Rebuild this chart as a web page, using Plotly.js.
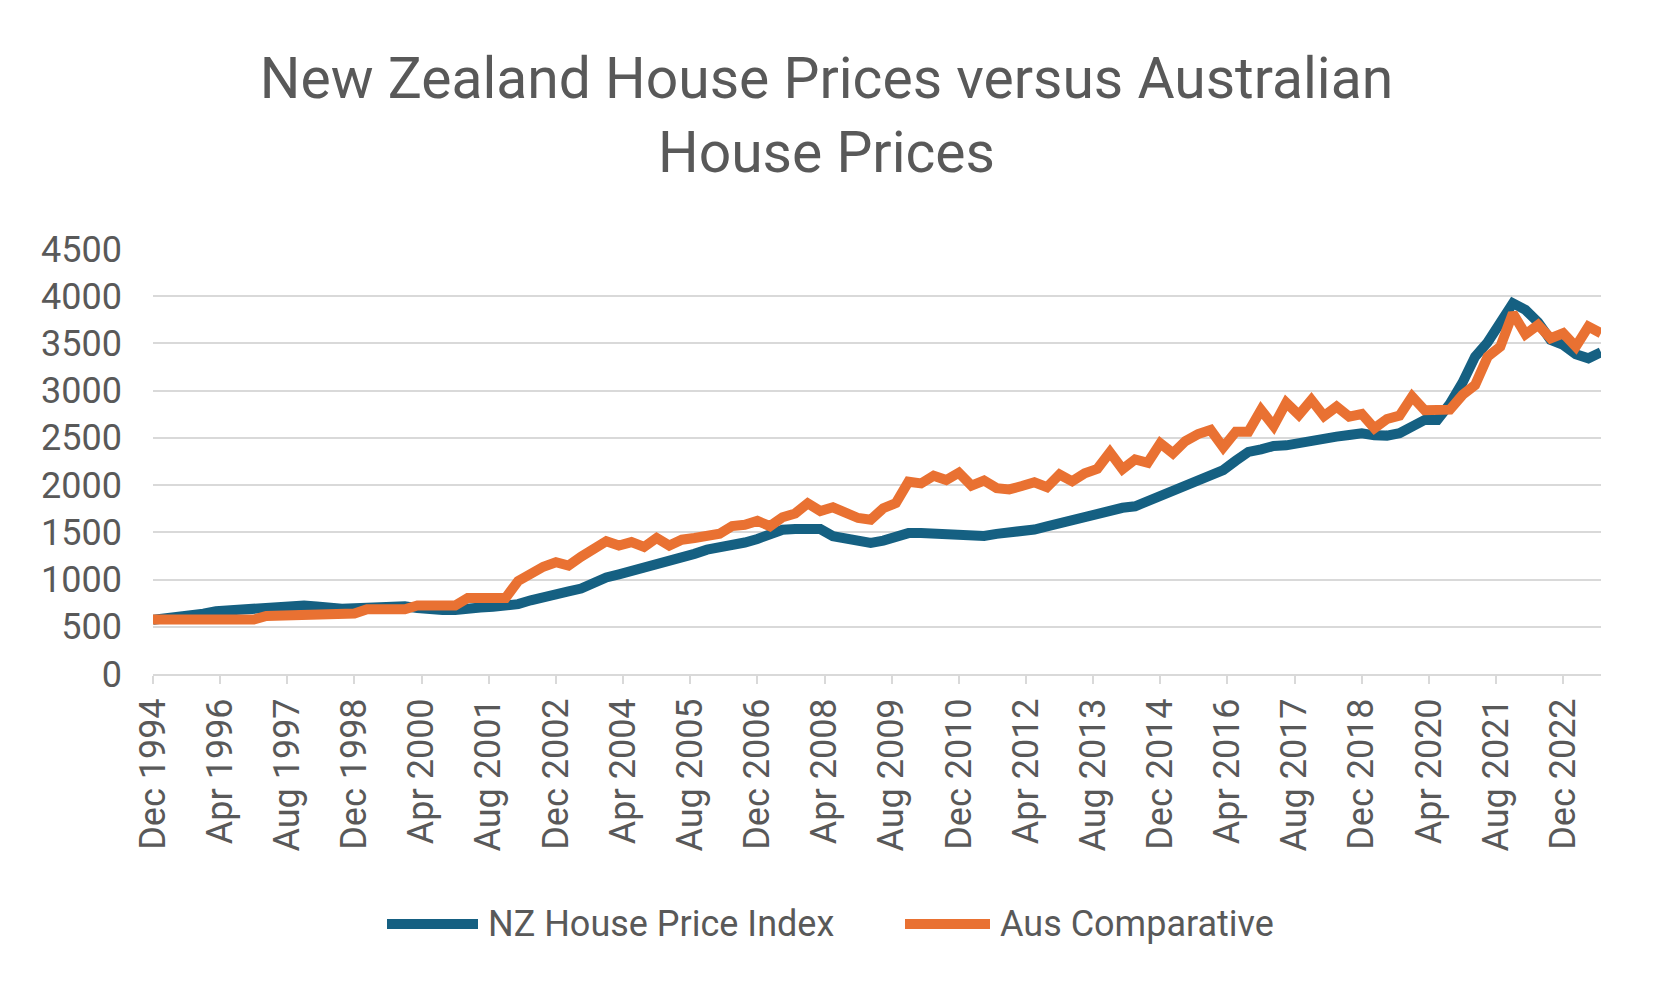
<!DOCTYPE html>
<html>
<head>
<meta charset="utf-8">
<script src="https://cdn.plot.ly/plotly-3.0.1.min.js"></script>
<style>
  html, body { margin: 0; padding: 0; background: #ffffff; }
  #chart { width: 1653px; height: 993px; outline: 2px solid #d9d9d9; outline-offset: -2px; }
</style>
</head>
<body>
<div id="chart"></div>
<script>
// Quarterly observations, Dec 1994 to Sep 2023
const nzHousePriceIndex = [
  575, 585, 596, 610, 638, 664, 676, 680, 695, 708,
  716, 719, 726, 716, 700, 692, 695, 705, 712, 715,
  718, 698, 680, 678, 678, 705, 705, 712, 720, 740,
  780, 804, 832, 875, 905, 968, 1022, 1055, 1090, 1118,
  1148, 1200, 1240, 1272, 1316, 1341, 1353, 1392, 1430, 1485,
  1528, 1534, 1538, 1535, 1460, 1440, 1403, 1389, 1412, 1450,
  1492, 1494, 1484, 1470, 1458, 1456, 1461, 1484, 1493, 1505,
  1530, 1563, 1598, 1630, 1666, 1715, 1742, 1760, 1776, 1828,
  1886, 1948, 1990, 2054, 2089, 2160, 2259, 2351, 2379, 2414,
  2421, 2449, 2474, 2502, 2513, 2531, 2549, 2527, 2524, 2549,
  2620, 2690, 2690, 2860, 3085, 3360, 3513, 3714, 3926, 3855,
  3725, 3537, 3484, 3386, 3343, 3407
];
const ausComparative = [
  576, 576, 576, 576, 576, 576, 576, 576, 576, 614,
  614, 614, 614, 640, 640, 640, 640, 686, 686, 686,
  686, 725, 725, 725, 725, 805, 805, 805, 805, 985,
  1065, 1136, 1183, 1148, 1242, 1330, 1405, 1360, 1397, 1345,
  1440, 1360, 1422, 1440, 1475, 1485, 1567, 1580, 1621, 1565,
  1660, 1700, 1807, 1725, 1765, 1697, 1652, 1634, 1755, 1810,
  2036, 2018, 2100, 2054, 2131, 1995, 2048, 1968, 1955, 1990,
  2030, 1978, 2112, 2040, 2125, 2172, 2348, 2168, 2272, 2237,
  2443, 2337, 2467, 2541, 2584, 2400, 2566, 2566, 2796, 2626,
  2873, 2743, 2902, 2732, 2831, 2725, 2753, 2602, 2700, 2735,
  2937, 2792, 2796, 2799, 2955, 3060, 3360, 3466, 3820, 3597,
  3696, 3555, 3608, 3466, 3678, 3608
];
const tickLabels = [
  "Dec 1994", "Apr 1996", "Aug 1997", "Dec 1998", "Apr 2000", "Aug 2001",
  "Dec 2002", "Apr 2004", "Aug 2005", "Dec 2006", "Apr 2008", "Aug 2009",
  "Dec 2010", "Apr 2012", "Aug 2013", "Dec 2014", "Apr 2016", "Aug 2017",
  "Dec 2018", "Apr 2020", "Aug 2021", "Dec 2022"
];
const seriesNames = ["NZ House Price Index", "Aus Comparative"];
const titleText = "New Zealand House Prices versus Australian<br>House Prices";

// x positions: months elapsed since Dec 1994 (quarterly points, 16-month tick spacing)
const monthsOf = arr => arr.map((_, i) => 3 * i);
const tickMonths = tickLabels.map((_, i) => 16 * i);

const BLUE = "#156082";
const ORANGE = "#E97132";
const TEXT = "#595959";
const GRID = "#d9d9d9";
const FONT = "Roboto, 'Liberation Sans', Arial, sans-serif";

const traces = [
  { x: monthsOf(nzHousePriceIndex), y: nzHousePriceIndex, name: seriesNames[0], type: "scatter", mode: "lines",
    line: { color: BLUE, width: 10 }, hoverinfo: "y+name" },
  { x: monthsOf(ausComparative), y: ausComparative, name: seriesNames[1], type: "scatter", mode: "lines",
    line: { color: ORANGE, width: 10 }, hoverinfo: "y+name" }
];

// custom legend placed like the original (long line samples)
const L = 153, R = 1601, T = 249, B = 674;
const px2x = p => (p - L) / (R - L);
const py2y = p => (B - p) / (B - T);
const legY = py2y(924);
const legendItems = [
  { x0: 387, x1: 478, tx: 486, color: BLUE, name: seriesNames[0] },
  { x0: 905, x1: 990, tx: 998, color: ORANGE, name: seriesNames[1] }
];
const shapes = legendItems.map(it => ({
  type: "line", xref: "paper", yref: "paper",
  x0: px2x(it.x0), x1: px2x(it.x1), y0: legY, y1: legY,
  line: { color: it.color, width: 10 }
}));
const annotations = legendItems.map(it => ({
  xref: "paper", yref: "paper", x: px2x(it.tx), y: legY,
  xanchor: "left", yanchor: "middle", showarrow: false,
  text: it.name, font: { family: FONT, size: 36, color: TEXT }
}));

const layout = {
  width: 1653, height: 993,
  paper_bgcolor: "#ffffff", plot_bgcolor: "#ffffff",
  margin: { l: L, r: 1653 - R, t: T, b: 993 - B, pad: 0 },
  font: { family: FONT, color: TEXT, size: 36 },
  title: {
    text: titleText,
    font: { family: FONT, size: 57, color: TEXT },
    x: 0.5, xref: "container", xanchor: "center",
    y: 1 - 98 / 993, yref: "container", yanchor: "middle"
  },
  showlegend: false,
  xaxis: {
    type: "linear", range: [0, 345],
    tickmode: "array", tickvals: tickMonths, ticktext: tickLabels,
    tickangle: -90, ticks: "outside", ticklen: 8, tickwidth: 2, tickcolor: GRID,
    showline: true, linecolor: GRID, linewidth: 2,
    showgrid: false, zeroline: false,
    tickfont: { family: FONT, size: 36, color: TEXT }
  },
  yaxis: {
    range: [0, 4500], dtick: 500, tick0: 0,
    showgrid: true, gridcolor: GRID, gridwidth: 2,
    zeroline: false, showline: false, ticks: "",
    ticklabelstandoff: 30,
    tickfont: { family: FONT, size: 36, color: TEXT }
  },
  shapes: shapes,
  annotations: annotations
};

Plotly.newPlot("chart", traces, layout, { displayModeBar: false, staticPlot: true });
</script>
</body>
</html>
